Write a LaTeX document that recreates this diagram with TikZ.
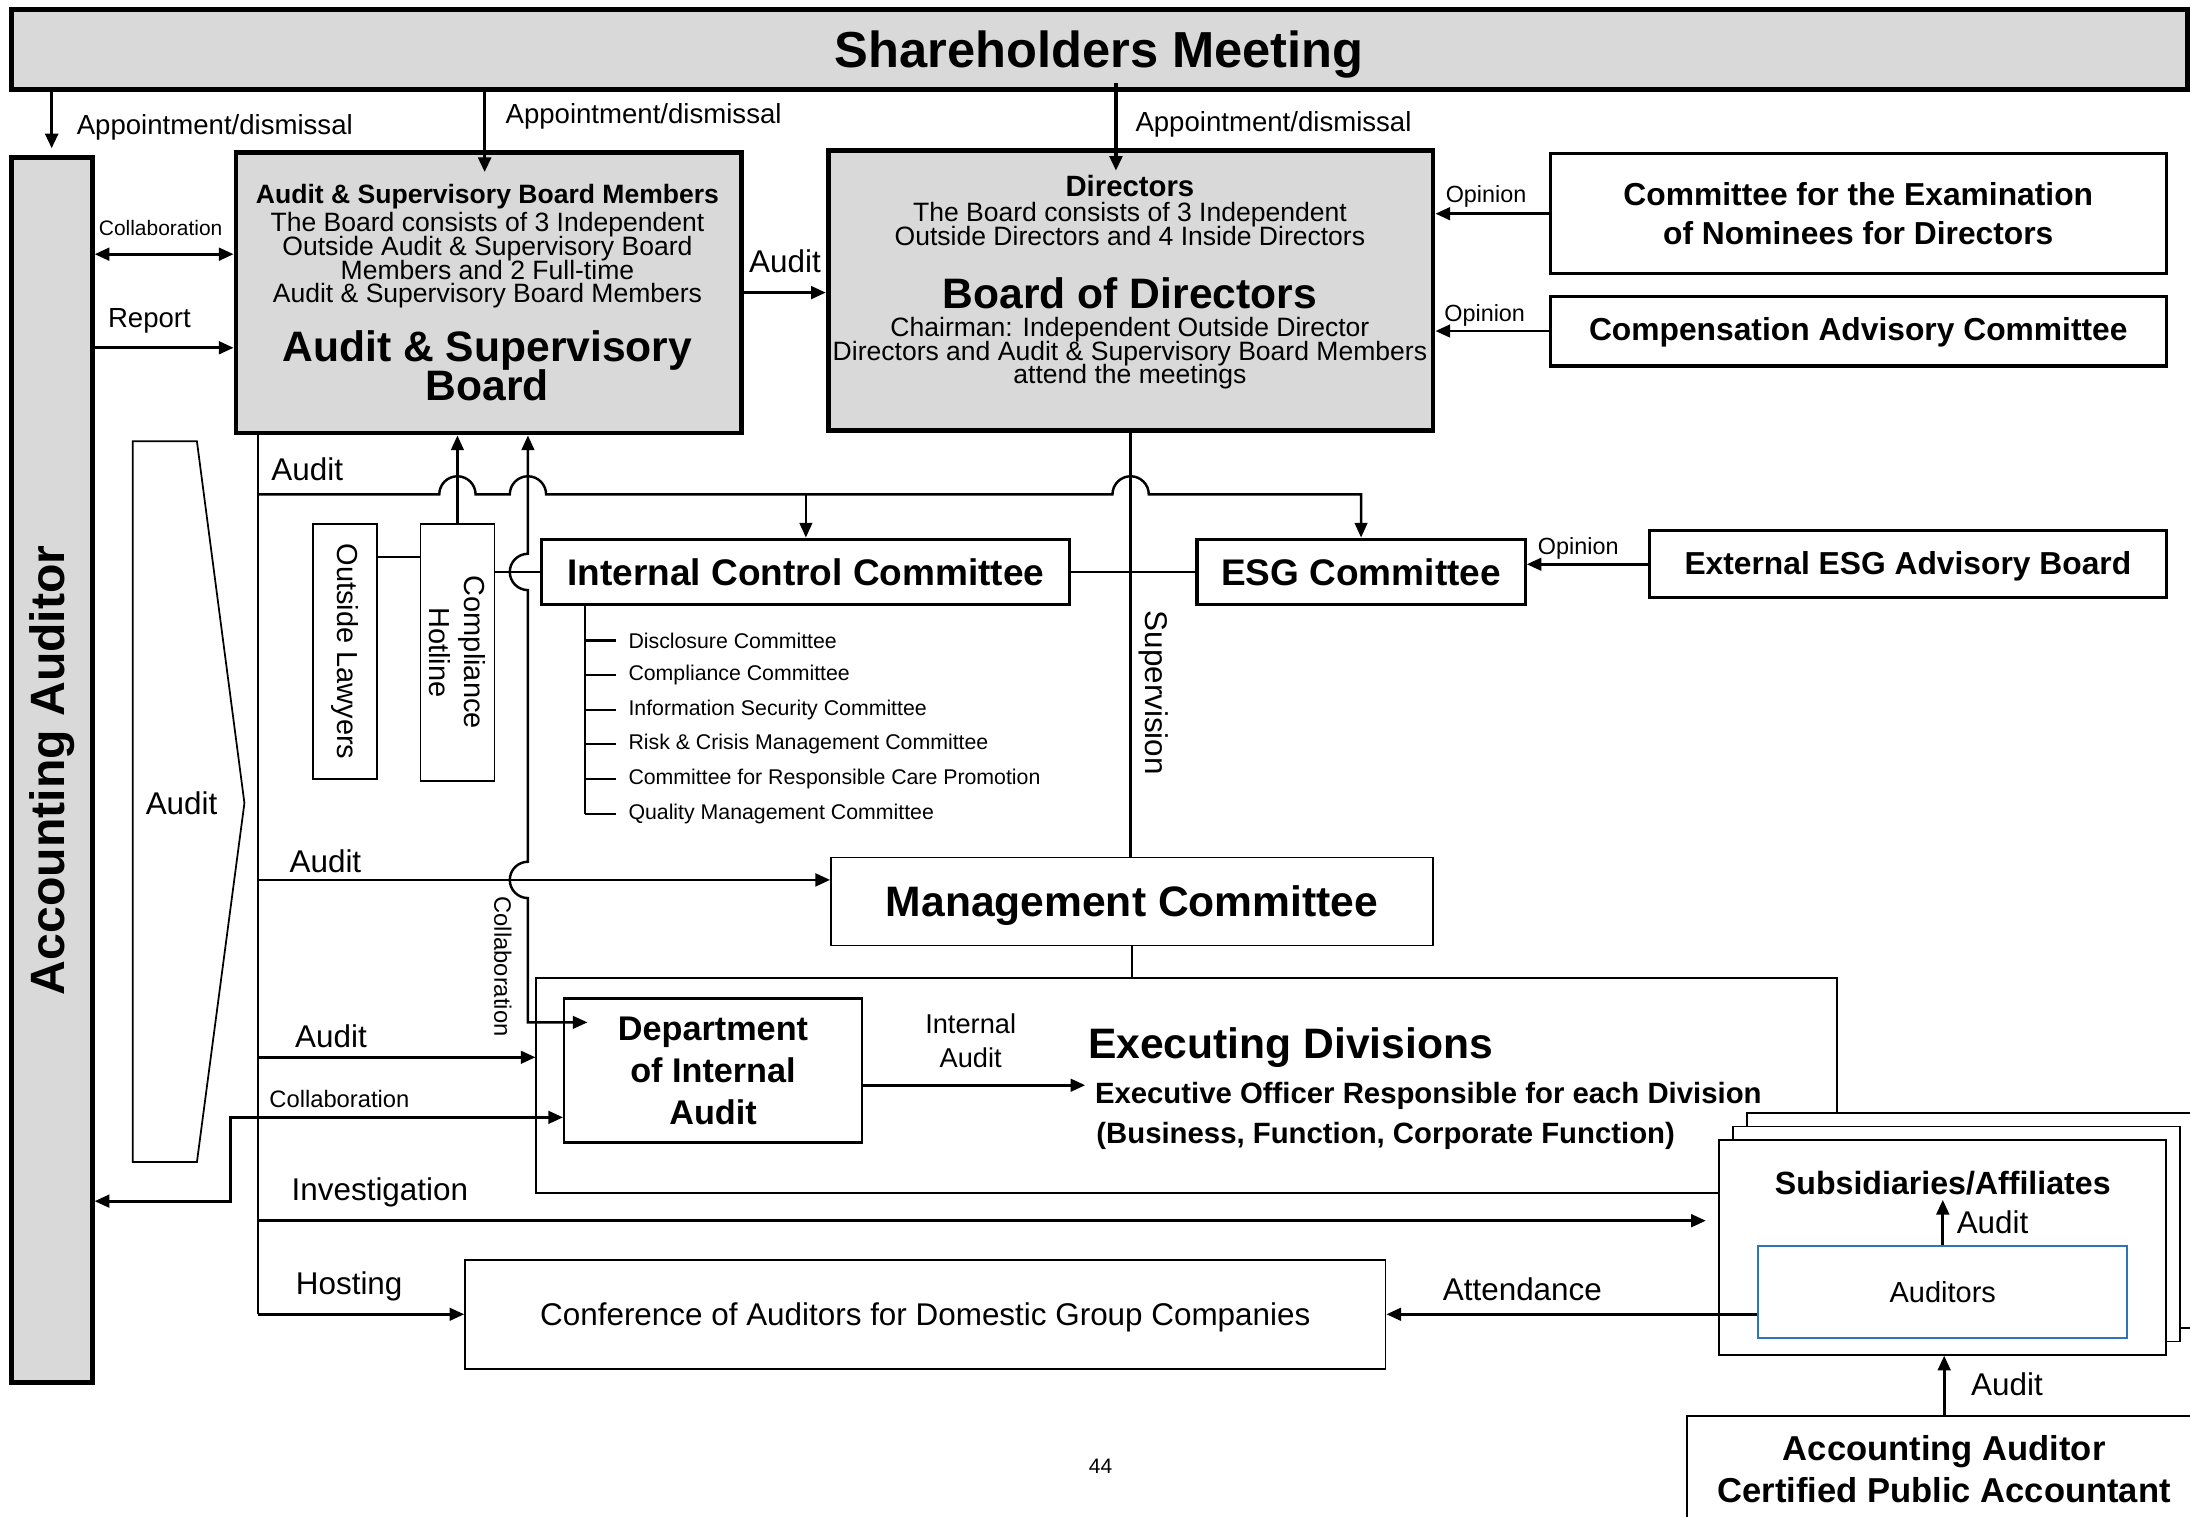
\documentclass[tikz,border=0pt]{standalone}
\usepackage{fontspec}
\setmainfont{Liberation Sans}
\usetikzlibrary{arrows.meta}
\definecolor{boxgray}{HTML}{D9D9D9}
\definecolor{audblue}{HTML}{2E75B6}
\newcommand{\fsz}[2]{\fontsize{#1}{#2}\selectfont}
\lineskiplimit=-20pt

\begin{document}
\begin{tikzpicture}[x=0.4pt,y=-0.4pt,line width=0.8pt,>={Triangle[length=4.2pt,width=3.6pt]}]
\tikzset{heavy/.style={draw,line width=1.4pt,fill=boxgray},
         framed/.style={draw,line width=0.9pt,fill=white},
         plain/.style={draw,line width=0.5pt,fill=white},
         sz/.style 2 args={minimum width=#1*0.4pt,minimum height=#2*0.4pt,inner sep=0pt},
         lbl/.style={font=\fsz{9}{11}},
         small/.style={font=\fsz{7.6}{6.8},align=center}}
\def\jmp{5.2pt}
\useasboundingbox (0,0) rectangle (1568,1086);

% top boxes
\node[heavy,sz={1558}{57},text depth=0pt,font=\fsz{14.5}{17}\bfseries] (sm) at (787,35.5) {Shareholders Meeting};
\node[heavy,sz={58}{877}] (aa) at (37,551.5) {};
\node[rotate=90,font=\fsz{13.8}{16}\bfseries] (aatext) at (aa) {Accounting Auditor};

\node[heavy,sz={362}{201}] (asb) at (350,209.5) {};
\node[font=\fsz{7.6}{8}\bfseries] (asbhead) at (349,141) {Audit \& Supervisory Board Members};
\node[small] (asbinfo) at (349,186.5) {The Board consists of 3 Independent\\Outside Audit \& Supervisory Board\\Members and 2 Full-time\\Audit \& Supervisory Board Members};
\node[font=\fsz{12.2}{11.2}\bfseries,align=center] (asbtitle) at (349,262) {Audit \& Supervisory\\Board};

\node[heavy,sz={433}{200}] (bod) at (809.5,208) {};
\node[font=\fsz{8.4}{9}\bfseries] (bodhead) at (809,133) {Directors};
\node[small] (bodinfo) at (809,160.5) {The Board consists of 3 Independent\\Outside Directors and 4 Inside Directors};
\node[font=\fsz{12.2}{12}\bfseries] (bodtitle) at (809,210) {Board of Directors};
\node[small] (bodnote) at (809,253) {Chairman: Independent Outside Director\\Directors and Audit \& Supervisory Board Members\\attend the meetings};

\node[framed,sz={441}{86},font=\fsz{9.1}{11.2}\bfseries,align=center] (cen) at (1330.5,153) {Committee for the Examination\\of Nominees for Directors};
\node[framed,sz={441}{50},text depth=1pt,font=\fsz{9.1}{11}\bfseries] (cac) at (1330.5,237) {Compensation Advisory Committee};

% middle
\draw[line width=0.5pt] (95,316) -- (141,316) -- (175,575) -- (141,832) -- (95,832) -- cycle;
\node[lbl] (chevlbl) at (130,575) {Audit};

\node[plain,sz={46}{183}] (lawyers) at (247,466.5) {};
\node[rotate=-90,font=\fsz{8.3}{10}] (lawtext) at (lawyers) {Outside Lawyers};
\node[plain,sz={53}{184}] (hotline) at (327.5,467) {};
\node[rotate=-90,font=\fsz{8.3}{10},align=center] (hottext) at (hotline) {Compliance\\Hotline};

\node[framed,sz={378}{47},font=\fsz{10.6}{12}\bfseries] (icc) at (577,409.5) {Internal Control Committee};
\node[framed,sz={235}{47},font=\fsz{10.6}{12}\bfseries] (esg) at (974.5,409.5) {ESG Committee};
\node[framed,sz={370}{48},text depth=1pt,font=\fsz{9.1}{11}\bfseries] (eesg) at (1366,404) {External ESG Advisory Board};

\coordinate (subtop) at ([xshift=12.8pt]icc.south west);
\foreach \cname [count=\i] in {Disclosure Committee,Compliance Committee,Information Security Committee,Risk \& Crisis Management Committee,Committee for Responsible Care Promotion,Quality Management Committee}{
  \node[anchor=west,inner sep=0pt,font=\fsz{6.1}{7}] (sub\i) at (449,433.8+24.8*\i) {\cname};
  \draw[line width=0.6pt] (subtop |- sub\i.west) -- ++(22,0);
}
\draw[line width=0.6pt] (subtop) -- (subtop |- sub6.west);

\node[plain,sz={431}{63},text depth=0pt,font=\fsz{12.2}{12}\bfseries] (mc) at (810.5,645.5) {Management Committee};

% lower part
\node[plain,sz={931}{154}] (exec) at (849.5,777) {};
\node[anchor=west,inner sep=0pt,font=\fsz{12.2}{12}\bfseries] (exectitle) at (778,750) {Executing Divisions};
\node[anchor=west,inner sep=0pt,font=\fsz{8.4}{10}\bfseries] (execoff) at (783,785) {Executive Officer Responsible for each Division};
\node[anchor=west,inner sep=0pt,font=\fsz{8.4}{10}\bfseries] (execfunc) at (784,813) {(Business, Function, Corporate Function)};
\node[draw,line width=0.7pt,fill=white,sz={213}{103},font=\fsz{9.8}{12}\bfseries,align=center] (dia) at (510.5,766.5) {Department\\of Internal\\Audit};
\node[font=\fsz{7.8}{9.6},align=center] (ialbl) at (695,745) {Internal\\Audit};

\foreach \k in {2,1}
  \node[plain,sz={320}{154}] (subsback\k) at (1391+10*\k,893-9.5*\k) {};
\node[plain,sz={320}{154}] (subs) at (1391,893) {};
\node[font=\fsz{9.2}{11}\bfseries,inner sep=1pt] (subsname) at (1391,847) {Subsidiaries/Affiliates};
\node[draw=audblue,line width=0.6pt,fill=white,sz={264}{66},text depth=0pt,font=\fsz{8.3}{10}] (auditors) at (1391,925) {Auditors};

\node[plain,sz={659}{78},text depth=0pt,font=\fsz{9}{11}] (conf) at (662.5,941) {Conference of Auditors for Domestic Group Companies};
\node[plain,sz={368}{76},font=\fsz{9.9}{12}\bfseries,align=center] (cpa) at (1392,1052) {Accounting Auditor\\Certified Public Accountant};
\node[font=\fsz{6}{7}] (pagenum) at (788,1050) {44};

% tracks and rows
\coordinate (trkA) at (185,0);
\coordinate (trkB) at (165,0);
\coordinate (trkC) at (378,0);
\coordinate (rowcol) at (0,182);
\coordinate (rowrep) at (0,249);
\coordinate (rowaud) at (0,354);
\coordinate (rowlaw) at (0,399);
\coordinate (rowmc) at (0,630);
\coordinate (rowcdia) at (0,732);
\coordinate (rowex) at (0,757);
\coordinate (rowia) at (0,777);
\coordinate (rowcol2) at (0,800);
\coordinate (rowaa) at (0,860);
\coordinate (rowinv) at (0,874);

% appointment
\draw[->,line width=1pt] (sm.south -| aa.north) -- ([yshift=2pt]aa.north);
\draw[->,line width=1pt] ([xshift=-1.2pt]sm.south -| asb.north) -- ([xshift=-1.2pt,yshift=-6.4pt]asb.north);
\draw[->,line width=1pt] ([xshift=-4.2pt,yshift=2.4pt]sm.south -| bod.north) -- ([xshift=-4.2pt,yshift=-6.4pt]bod.north);
\node[anchor=west,inner sep=0pt,font=\fsz{7.9}{9}] (appaa) at (54,91) {Appointment/dismissal};
\node[anchor=west,inner sep=0pt,font=\fsz{7.9}{9}] (appasb) at (361,83) {Appointment/dismissal};
\node[anchor=west,inner sep=0pt,font=\fsz{7.9}{9}] (appbod) at (812,89) {Appointment/dismissal};

% board level
\draw[->] (asb.east) -- (asb.east -| bod.west);
\node[lbl] (audbod) at (562,187) {Audit};
\draw[->] (cen.west) -- (cen.west -| bod.east);
\draw[->] (cac.west) -- (cac.west -| bod.east);
\draw[->] (eesg.west) -- (eesg.west -| esg.east);
\node[font=\fsz{6.7}{8}] (opcen) at (1064,141) {Opinion};
\node[font=\fsz{6.7}{8}] (opcac) at (1063,226) {Opinion};
\node[font=\fsz{6.7}{8}] (opesg) at (1130,393) {Opinion};

\draw[<->] (aa.east |- rowcol) -- (asb.west |- rowcol);
\node[font=\fsz{6}{7}] (collbl) at (115,163) {Collaboration};
\draw[->] (aa.east |- rowrep) -- (asb.west |- rowrep);
\node[font=\fsz{7.9}{9}] (replbl) at (107,230) {Report};

% audit trunk
\draw[line width=0.6pt] (asb.south -| trkA) -- (trkA |- conf.west);
\draw[->,line width=0.7pt] (trkA |- rowaud) -- ([xshift=-\jmp]hotline.north |- rowaud)
  arc[start angle=180,end angle=0,radius=\jmp] -- ([xshift=-\jmp]trkC |- rowaud)
  arc[start angle=180,end angle=0,radius=\jmp] -- ([xshift=-\jmp]bod.south |- rowaud)
  arc[start angle=180,end angle=0,radius=\jmp] -- (esg.north |- rowaud) -- (esg.north);
\draw[->,line width=0.7pt] (icc.north |- rowaud) -- (icc.north);
\node[lbl] (audrow) at (220,336) {Audit};

\draw[->,line width=0.7pt] (hotline.north) -- (hotline.north |- asb.south);
\draw[line width=0.6pt] (lawyers.east |- rowlaw) -- (hotline.west |- rowlaw);
\draw[line width=0.6pt] (hotline.east |- icc.west) -- (icc.west);
\draw[line width=0.6pt] (icc.east) -- (esg.west);

\draw[<->,line width=0.7pt] (asb.south -| trkC) -- ([yshift=\jmp]trkC |- icc.west)
  arc[start angle=90,end angle=270,radius=\jmp] -- ([yshift=\jmp]trkC |- rowmc)
  arc[start angle=90,end angle=270,radius=\jmp] -- (trkC |- rowcdia) -- ([xshift=7pt]dia.west |- rowcdia);
\node[rotate=-90,font=\fsz{6.8}{8}] (colldia) at (360,692) {Collaboration};

\draw[line width=0.7pt] (bod.south) -- (bod.south |- mc.north);
\node[rotate=-90,lbl] (suplbl) at (826,496) {Supervision};
\draw[line width=0.7pt] (mc.south) -- (mc.south |- exec.north);

\draw[->] (trkA |- rowmc) -- (mc.west |- rowmc);
\node[lbl] (audmc) at (233,617) {Audit};
\draw[->] (trkA |- rowex) -- (exec.west |- rowex);
\node[lbl] (audex) at (237,742) {Audit};
\draw[<->] (aa.east |- rowaa) -- (trkB |- rowaa) -- (trkB |- rowcol2) -- (dia.west |- rowcol2);
\node[font=\fsz{6.8}{8}] (colllow) at (243,787) {Collaboration};
\draw[->] (trkA |- rowinv) -- ([xshift=-3.6pt]subs.west |- rowinv);
\node[lbl] (invlbl) at (272,854) {Investigation};
\draw[->] (trkA |- conf.west) -- (conf.west);
\node[lbl] (hostlbl) at (250,921) {Hosting};

\draw[->] (dia.east |- rowia) -- ([xshift=-2.4pt]execoff.west |- rowia);
\draw[->] (auditors.north) -- (subsname.south);
\node[anchor=west,inner sep=0pt,lbl] (audsub) at (1400,875) {Audit};
\draw[->] (auditors.west |- conf.east) -- (conf.east);
\node[lbl] (attlbl) at (1090,923) {Attendance};
\draw[->] (cpa.north) -- (cpa.north |- subs.south);
\node[lbl] (audcpa) at (1437,991) {Audit};
\end{tikzpicture}
\end{document}
